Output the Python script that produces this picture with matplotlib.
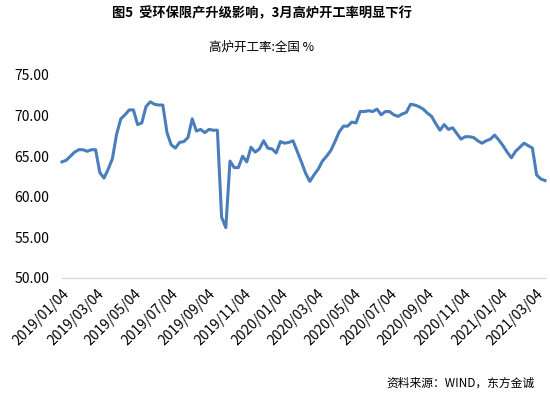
import pandas as pd
import matplotlib
matplotlib.use('Agg')
import matplotlib.pyplot as plt

plt.rcParams['font.family'] = ['Noto Sans CJK SC', 'DejaVu Sans']

# 高炉开工率:全国, 周度数据, 从2019/01/04开始
start_date = '2019-01-04'
rate = [64.3, 64.5, 65.0, 65.5, 65.8, 65.8, 65.6, 65.8, 65.8, 63.0,
        62.3, 63.4, 64.7, 67.7, 69.6, 70.1, 70.7, 70.7, 68.9, 69.1,
        71.1, 71.7, 71.4, 71.3, 71.3, 67.9, 66.4, 66.0, 66.7, 66.8,
        67.3, 69.6, 68.1, 68.3, 67.9, 68.3, 68.2, 68.2, 57.5, 56.2,
        64.4, 63.6, 63.6, 65.0, 64.3, 66.1, 65.5, 65.9, 66.9, 66.0,
        65.9, 65.4, 66.8, 66.6, 66.7, 66.9, 65.6, 64.3, 62.9, 61.9,
        62.7, 63.4, 64.4, 65.0, 65.7, 66.8, 68.0, 68.7, 68.7, 69.2,
        69.1, 70.5, 70.5, 70.6, 70.5, 70.8, 70.1, 70.5, 70.5, 70.1,
        69.9, 70.2, 70.4, 71.4, 71.3, 71.1, 70.8, 70.3, 69.9, 69.0,
        68.2, 68.9, 68.3, 68.5, 67.8, 67.1, 67.4, 67.4, 67.3, 66.9,
        66.6, 66.9, 67.1, 67.6, 67.0, 66.3, 65.5, 64.8, 65.6, 66.1,
        66.6, 66.3, 66.0, 62.7, 62.2, 62.0]
tick_labels = ['2019/01/04', '2019/03/04', '2019/05/04', '2019/07/04',
               '2019/09/04', '2019/11/04', '2020/01/04', '2020/03/04',
               '2020/05/04', '2020/07/04', '2020/09/04', '2020/11/04',
               '2021/01/04', '2021/03/04']
y_ticks = [50, 55, 60, 65, 70, 75]

dates = pd.date_range(start_date, periods=len(rate), freq='7D')
tick_dates = pd.to_datetime(tick_labels, format='%Y/%m/%d')

fig = plt.figure(figsize=(5.5, 3.95), dpi=100)
ax = fig.add_axes([62 / 550, 1 - 278 / 395, (545 - 62) / 550, (278 - 75) / 395])
ax.plot(dates, rate, color='#4A7EBB', lw=2.2, clip_on=False)

ax.set_xlim(dates[0], dates[-1])
ax.set_ylim(50, 75)
ax.set_yticks(y_ticks)
ax.set_yticklabels([f'{v:.2f}' for v in y_ticks])
ax.set_xticks(tick_dates)
ax.set_xticklabels(tick_labels, rotation=45, ha='right', rotation_mode='anchor')
ax.tick_params(axis='both', length=0, labelsize=10, colors='#000000')
ax.tick_params(axis='y', pad=9)
ax.tick_params(axis='x', pad=6)

for s in ['top', 'right', 'left']:
    ax.spines[s].set_visible(False)
ax.spines['bottom'].set_color('#d9d9d9')
ax.spines['bottom'].set_linewidth(1)

fig.text(262 / 550, 1 - 13 / 395, '图5  受环保限产升级影响，3月高炉开工率明显下行',
         ha='center', va='center', fontsize=9.5, fontweight='bold')
fig.text(262 / 550, 1 - 47 / 395, '高炉开工率:全国 %', ha='center', va='center', fontsize=9)
fig.text(535 / 550, 1 - 383 / 395, '资料来源：WIND，东方金诚', ha='right', va='center', fontsize=8.5)

fig.savefig('out.png', dpi=100)
